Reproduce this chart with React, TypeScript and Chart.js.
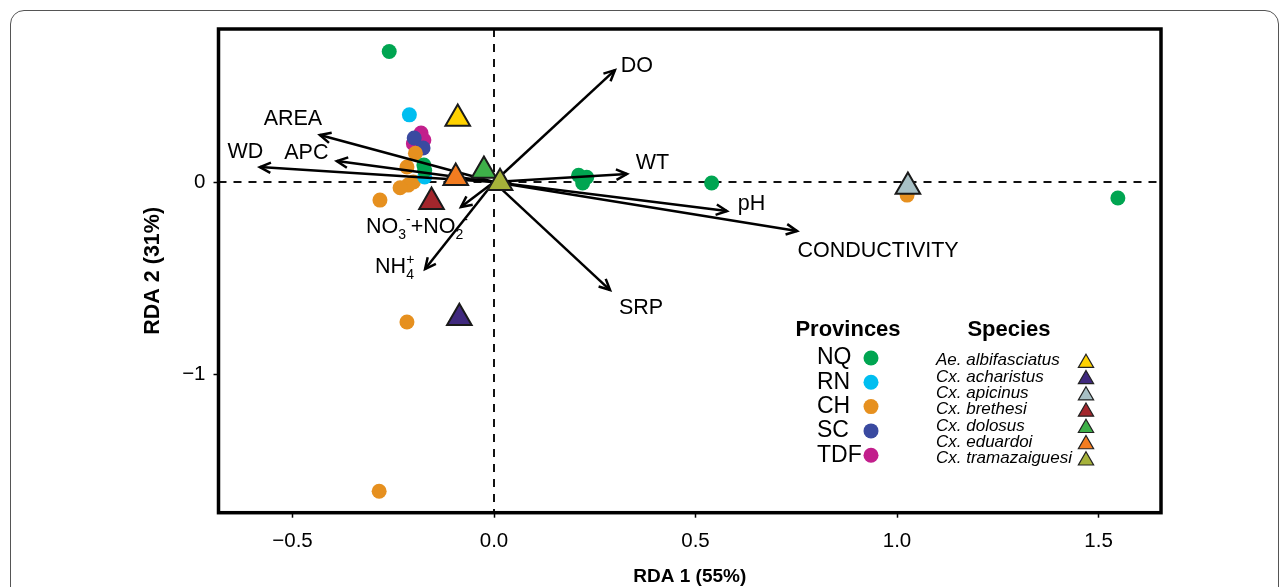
import React, { useEffect, useRef } from 'react';
import { Chart, registerables } from 'chart.js';

Chart.register(...registerables);

const FONT = '"Liberation Sans", Arial, Helvetica, sans-serif';

// ---- axes ----
const X_MIN = -0.6836;
const X_MAX = 1.655;
const Y_MIN = -1.722;
const Y_MAX = 0.797;
const xTicks = [-0.5, 0, 0.5, 1.0, 1.5];
const xTickLabels = ['\u22120.5', '0.0', '0.5', '1.0', '1.5'];
const yTicks = [0, -1];
const yTickLabels = ['0', '\u22121'];
const xTitle = 'RDA 1 (55%)';
const yTitle = 'RDA 2 (31%)';

// ---- sites by province ----
const provinceNames = ['NQ', 'RN', 'CH', 'SC', 'TDF'];
const provinceColors = ['#00A551', '#00BEF0', '#E6901F', '#3A4AA0', '#C21F8C'];
const nqX = [-0.26, -0.174, -0.172, 0.21, 0.23, 0.22, 0.54, 1.548];
const nqY = [0.68, 0.089, 0.06, 0.035, 0.025, -0.005, -0.005, -0.083];
const rnX = [-0.21, -0.172];
const rnY = [0.35, 0.026];
const chX = [-0.195, -0.216, -0.2, -0.213, -0.233, -0.283, -0.216, -0.285, 1.025];
const chY = [0.15, 0.078, 0.0, -0.016, -0.03, -0.094, -0.729, -1.61, -0.068];
const scX = [-0.198, -0.176];
const scY = [0.229, 0.177];
const tdfX = [-0.181, -0.174, -0.2];
const tdfY = [0.255, 0.219, 0.2];
const provinceXs = [nqX, rnX, chX, scX, tdfX];
const provinceYs = [nqY, rnY, chY, scY, tdfY];

// ---- species scores ----
const speciesNames = [
  'Ae. albifasciatus',
  'Cx. acharistus',
  'Cx. apicinus',
  'Cx. brethesi',
  'Cx. dolosus',
  'Cx. eduardoi',
  'Cx. tramazaiguesi',
];
const speciesColors = ['#FFD200', '#40297E', '#A7C0C5', '#A3262C', '#3EB049', '#F37C20', '#A6B23A'];
const speciesX = [-0.09, -0.086, 1.027, -0.155, -0.025, -0.095, 0.015];
const speciesY = [0.33, -0.708, -0.024, -0.103, 0.059, 0.022, -0.005];

// ---- environmental vectors ----
const vectorNames = ['DO', 'WT', 'pH', 'CONDUCTIVITY', 'SRP', 'NH4+', 'NO3-+NO2-', 'AREA', 'APC', 'WD'];
const vectorX = [0.3, 0.33, 0.578, 0.752, 0.288, -0.171, -0.082, -0.432, -0.39, -0.581];
const vectorY = [0.583, 0.042, -0.151, -0.255, -0.5625, -0.453, -0.13, 0.245, 0.109, 0.078];

// label placement (pixel offsets from arrow tip)
const labelOffsets: Record<string, [number, number]> = {
  DO: [22, -4],
  WT: [25.5, -10.5],
  pH: [24.5, -7],
  CONDUCTIVITY: [81, 20.5],
  SRP: [31, 18],
  AREA: [-27, -15.5],
  APC: [-30.5, -8.5],
  WD: [-14.5, -14.5],
  'NH4+': [-50, 4],
  'NO3-+NO2-': [-95, 26],
};
type Seg = { t: string; k: number; stack?: boolean };
const richLabels: Record<string, Seg[]> = {
  'NH4+': [
    { t: 'NH', k: 0 },
    { t: '4', k: -1 },
    { t: '+', k: 1, stack: true },
  ],
  'NO3-+NO2-': [
    { t: 'NO', k: 0 },
    { t: '3', k: -1 },
    { t: '-', k: 1 },
    { t: '+NO', k: 0 },
    { t: '2', k: -1 },
    { t: '-', k: 1 },
  ],
};

function triPath(ctx: CanvasRenderingContext2D, x: number, y: number, r: number) {
  const s = Math.sin(Math.PI / 3) * r;
  ctx.beginPath();
  ctx.moveTo(x, y - r);
  ctx.lineTo(x + s, y + r / 2);
  ctx.lineTo(x - s, y + r / 2);
  ctx.closePath();
}

function drawArrow(ctx: CanvasRenderingContext2D, x0: number, y0: number, x1: number, y1: number) {
  ctx.beginPath();
  ctx.moveTo(x0, y0);
  ctx.lineTo(x1, y1);
  ctx.stroke();
  const a = Math.atan2(y1 - y0, x1 - x0);
  const L = 12;
  const h = 0.45;
  ctx.beginPath();
  ctx.moveTo(x1 - L * Math.cos(a - h), y1 - L * Math.sin(a - h));
  ctx.lineTo(x1, y1);
  ctx.lineTo(x1 - L * Math.cos(a + h), y1 - L * Math.sin(a + h));
  ctx.stroke();
}

const LABEL_SIZE = 21.5;

const overlay = {
  id: 'rdaOverlay',
  beforeDatasetsDraw(chart: any) {
    const { ctx, chartArea, scales } = chart;
    const x0 = scales.x.getPixelForValue(0);
    const y0 = scales.y.getPixelForValue(0);
    ctx.save();
    ctx.beginPath();
    ctx.rect(chartArea.left, chartArea.top, chartArea.right - chartArea.left, chartArea.bottom - chartArea.top);
    ctx.clip();
    ctx.strokeStyle = '#111';
    ctx.lineWidth = 2;
    ctx.setLineDash([8, 7]);
    ctx.beginPath();
    ctx.moveTo(chartArea.left, y0);
    ctx.lineTo(chartArea.right, y0);
    ctx.moveTo(x0, chartArea.top);
    ctx.lineTo(x0, chartArea.bottom);
    ctx.stroke();
    ctx.restore();
  },
  afterDatasetDraw(chart: any, args: any) {
    if (args.index !== speciesNames.length) return;
    const { ctx, scales } = chart;
    const ox = scales.x.getPixelForValue(0);
    const oy = scales.y.getPixelForValue(0);
    ctx.save();
    ctx.strokeStyle = '#000';
    ctx.lineWidth = 2.5;
    ctx.lineJoin = 'miter';
    ctx.lineCap = 'butt';
    vectorNames.forEach((name, i) => {
      const tx = scales.x.getPixelForValue(vectorX[i]);
      const ty = scales.y.getPixelForValue(vectorY[i]);
      drawArrow(ctx, ox, oy, tx, ty);
      const [dx, dy] = labelOffsets[name];
      ctx.fillStyle = '#000';
      const rich = richLabels[name];
      if (rich) {
        let x = tx + dx;
        const base = ty + dy;
        ctx.textAlign = 'left';
        ctx.textBaseline = 'alphabetic';
        let lastX = x;
        rich.forEach((seg) => {
          if (seg.k === 0) {
            ctx.font = `${LABEL_SIZE}px ${FONT}`;
            ctx.fillText(seg.t, x, base);
            lastX = x;
            x += ctx.measureText(seg.t).width;
          } else {
            ctx.font = `14px ${FONT}`;
            const sx = seg.stack ? lastX : x;
            const sy = seg.k < 0 ? base + 6 : base - 9;
            ctx.fillText(seg.t, sx, sy);
            lastX = sx;
            x = Math.max(x, sx + ctx.measureText(seg.t).width);
          }
        });
      } else {
        ctx.font = `${LABEL_SIZE}px ${FONT}`;
        ctx.textAlign = 'center';
        ctx.textBaseline = 'middle';
        ctx.fillText(name, tx + dx, ty + dy);
      }
    });
    ctx.restore();
  },
  afterDraw(chart: any) {
    const { ctx, chartArea } = chart;
    ctx.save();
    // plot box
    ctx.strokeStyle = '#000';
    ctx.lineWidth = 3.5;
    ctx.strokeRect(chartArea.left, chartArea.top, chartArea.right - chartArea.left, chartArea.bottom - chartArea.top);

    // legend: provinces
    ctx.fillStyle = '#000';
    ctx.font = `bold 22px ${FONT}`;
    ctx.textAlign = 'center';
    ctx.textBaseline = 'middle';
    ctx.fillText('Provinces', 848, 330);
    ctx.fillText('Species', 1009, 330);

    ctx.font = `23px ${FONT}`;
    ctx.textAlign = 'left';
    provinceNames.forEach((p, i) => {
      const y = 358 + i * 24.3;
      ctx.fillStyle = '#000';
      ctx.fillText(p, 817, y);
      ctx.fillStyle = provinceColors[i];
      ctx.beginPath();
      ctx.arc(871, y, 7.5, 0, Math.PI * 2);
      ctx.fill();
    });

    ctx.font = `italic 17px ${FONT}`;
    speciesNames.forEach((s, i) => {
      const y = 360.7 + i * 16.27;
      ctx.fillStyle = '#000';
      ctx.fillText(s, 936, y);
      triPath(ctx, 1086, y + 2.3, 8.8);
      ctx.fillStyle = speciesColors[i];
      ctx.fill();
      ctx.strokeStyle = '#222';
      ctx.lineWidth = 1.2;
      ctx.stroke();
    });
    ctx.restore();
  },
};

export default function App() {
  const ref = useRef<HTMLCanvasElement>(null);
  useEffect(() => {
    const speciesSets = speciesNames.map((name, i) => ({
      label: name,
      data: [{ x: speciesX[i], y: speciesY[i] }],
      pointStyle: 'triangle',
      pointRadius: 14.2,
      backgroundColor: speciesColors[i],
      borderColor: '#1a1a1a',
      borderWidth: 2,
      order: speciesNames.length - 1 - i,
    }));
    const provinceSets = provinceNames.map((name, i) => ({
      label: name,
      data: provinceXs[i].map((x, j) => ({ x, y: provinceYs[i][j] })),
      pointStyle: 'circle',
      pointRadius: 7.5,
      backgroundColor: provinceColors[i],
      borderWidth: 0,
      order: 10,
    }));
    const tickFont = { family: FONT, size: 20.5 };
    const xTitleFont = { family: FONT, size: 19, weight: 'bold' as const };
    const yTitleFont = { family: FONT, size: 21.5, weight: 'bold' as const };
    const chart = new Chart(ref.current as HTMLCanvasElement, {
      type: 'scatter',
      data: { datasets: [...speciesSets, ...provinceSets] as any },
      options: {
        animation: false,
        responsive: false,
        devicePixelRatio: 1,
        events: [],
        layout: { padding: { left: 0, top: 29, right: 126, bottom: 0 } },
        plugins: { legend: { display: false }, tooltip: { enabled: false } },
        scales: {
          x: {
            type: 'linear',
            min: X_MIN,
            max: X_MAX,
            afterBuildTicks: (s: any) => {
              s.ticks = xTicks.map((v) => ({ value: v }));
            },
            afterFit: (s: any) => {
              s.height = 74.3;
            },
            ticks: {
              autoSkip: false,
              maxRotation: 0,
              padding: 11,
              color: '#000',
              font: tickFont,
              callback: (v: any) => {
                const i = xTicks.findIndex((t) => Math.abs(t - Number(v)) < 1e-9);
                return i >= 0 ? xTickLabels[i] : '';
              },
            },
            grid: {
              display: true,
              drawOnChartArea: false,
              drawTicks: true,
              tickLength: 5,
              tickColor: '#000',
              tickWidth: 1.5,
            },
            border: { display: false },
            title: {
              display: true,
              text: xTitle,
              color: '#000',
              font: xTitleFont,
              padding: { top: 0, bottom: -1.4 },
            },
          },
          y: {
            type: 'linear',
            min: Y_MIN,
            max: Y_MAX,
            afterBuildTicks: (s: any) => {
              s.ticks = yTicks.map((v) => ({ value: v }));
            },
            afterFit: (s: any) => {
              s.width = 218.5;
            },
            ticks: {
              autoSkip: false,
              padding: 8,
              color: '#000',
              font: tickFont,
              callback: (v: any) => {
                const i = yTicks.findIndex((t) => Math.abs(t - Number(v)) < 1e-9);
                return i >= 0 ? yTickLabels[i] : '';
              },
            },
            grid: {
              display: true,
              drawOnChartArea: false,
              drawTicks: true,
              tickLength: 5,
              tickColor: '#000',
              tickWidth: 1.5,
            },
            border: { display: false },
            title: {
              display: true,
              text: yTitle,
              color: '#000',
              font: yTitleFont,
              padding: { top: 140.1, bottom: 0 },
            },
          },
        },
      },
      plugins: [overlay],
    });
    return () => chart.destroy();
  }, []);

  return (
    <div
      style={{
        position: 'absolute',
        left: 0,
        top: 0,
        width: 1287,
        height: 587,
        overflow: 'hidden',
        background: '#fff',
      }}
    >
      <div
        style={{
          position: 'absolute',
          left: 10,
          top: 10,
          width: 1269,
          height: 640,
          border: '1px solid #555',
          borderRadius: 14,
          boxSizing: 'border-box',
        }}
      />
      <canvas
        ref={ref}
        width={1287}
        height={587}
        style={{ position: 'absolute', left: 0, top: 0, width: 1287, height: 587 }}
      />
    </div>
  );
}
